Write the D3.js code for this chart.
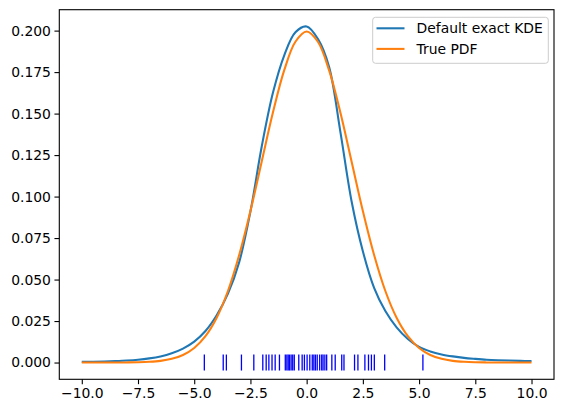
<!DOCTYPE html>
<html>
<head>
<meta charset="utf-8">
<script src="https://cdn.jsdelivr.net/npm/d3@7"></script>
<style>
  body { margin: 0; background: #fff; }
  svg { display: block; font-family: "DejaVu Sans", sans-serif; }
</style>
</head>
<body>
<div id="chart"></div>
<script>
var width = 565,
    height = 413,
    margin = {top: 9.7, right: 11, bottom: 33.7, left: 59.3};

// grid the two curves were read on
var gridX = [-10, -9.5, -9, -8.5, -8, -7.5, -7, -6.5, -6, -5.5, -5, -4.5, -4, -3.5, -3, -2.5, -2, -1.5, -1, -0.5,
             0, 0.5, 1, 1.5, 2, 2.5, 3, 3.5, 4, 4.5, 5, 5.5, 6, 6.5, 7, 7.5, 8, 8.5, 9, 9.5, 10];

var kdeVals = [0.0004, 0.0005, 0.00065, 0.00088, 0.0012, 0.0017, 0.0025, 0.0037, 0.0056, 0.0084, 0.0126, 0.0190, 0.0285, 0.0415, 0.0605, 0.0910, 0.1300, 0.1625, 0.1850, 0.1990,
               0.2025, 0.1950, 0.1780, 0.1390, 0.0970, 0.0670, 0.0450, 0.0310, 0.0212, 0.0142, 0.0094, 0.0067, 0.0049, 0.0037, 0.0028, 0.0022, 0.0017, 0.0014, 0.0012, 0.0010, 0.0009];

var pdfVals = [0.0000, 0.0000, 0.0000, 0.00002, 0.00007, 0.00018, 0.00044, 0.00101, 0.00222, 0.00454, 0.00876, 0.0159, 0.0270, 0.0431, 0.0648, 0.0913, 0.1210, 0.1506, 0.1760, 0.1933,
               0.1995, 0.1933, 0.1760, 0.1506, 0.1210, 0.0913, 0.0648, 0.0431, 0.0270, 0.0159, 0.00876, 0.00454, 0.00222, 0.00101, 0.00044, 0.00018, 0.00007, 0.00002, 0.0000, 0.0000, 0.0000];

// sample points shown as rug
var samples = [-4.55, -3.71, -3.57, -2.9, -2.35, -1.95, -1.8, -1.68, -1.54, -1.4, -1.21, -0.95, -0.88, -0.82, -0.76, -0.69, -0.62, -0.55,
               -0.35, -0.2, -0.1, 0.02, 0.14, 0.25, 0.32, 0.39, 0.47, 0.58, 0.67, 0.73, 0.81, 0.89, 1.12, 1.27, 1.56, 1.66,
               2.13, 2.28, 2.59, 2.75, 2.88, 3.01, 3.47, 5.17];

var xTicks = [-10, -7.5, -5, -2.5, 0, 2.5, 5, 7.5, 10],
    yTicks = [0, 0.025, 0.05, 0.075, 0.1, 0.125, 0.15, 0.175, 0.2];

var seriesNames = ["Default exact KDE", "True PDF"],
    color = d3.scaleOrdinal().domain(seriesNames).range(["#1f77b4", "#ff7f0e"]);

var svg = d3.select("#chart").append("svg")
    .attr("width", width)
    .attr("height", height);

var x = d3.scaleLinear().domain([-11, 11]).range([margin.left, width - margin.right]);
var y = d3.scaleLinear().domain([-0.0101, 0.2126]).range([height - margin.bottom, margin.top]);

var line = function(vals) {
    return d3.line()
        .x(function(d, i) { return x(gridX[i]); })
        .y(function(d) { return y(d); })
        .curve(d3.curveCatmullRom.alpha(0.5))(vals);
};

var plot = svg.append("g");

plot.append("path")
    .attr("d", line(kdeVals))
    .attr("fill", "none")
    .attr("stroke", color("Default exact KDE"))
    .attr("stroke-width", 2.08);

plot.append("path")
    .attr("d", line(pdfVals))
    .attr("fill", "none")
    .attr("stroke", color("True PDF"))
    .attr("stroke-width", 2.08);

// rug
plot.selectAll(".rug")
    .data(samples)
    .enter().append("line")
    .attr("class", "rug")
    .attr("x1", function(d) { return x(d); })
    .attr("x2", function(d) { return x(d); })
    .attr("y1", y(0) - 8)
    .attr("y2", y(0) + 8)
    .attr("stroke", "#0000ff")
    .attr("stroke-width", 1.3);

// axes
var xAxis = svg.append("g")
    .attr("transform", "translate(0," + (height - margin.bottom) + ")")
    .call(d3.axisBottom(x).tickValues(xTicks).tickFormat(d3.format(".1f")).tickSize(4.86).tickPadding(3.5));

var yAxis = svg.append("g")
    .attr("transform", "translate(" + margin.left + ",0)")
    .call(d3.axisLeft(y).tickValues(yTicks).tickFormat(d3.format(".3f")).tickSize(4.86).tickPadding(3.5));

[xAxis, yAxis].forEach(function(a) {
    a.select(".domain").remove();
    a.selectAll(".tick line").attr("stroke", "#000").attr("stroke-width", 1.1);
    a.selectAll(".tick text").attr("fill", "#000").style("font-size", "13.9px").style("font-family", "DejaVu Sans");
});

// frame
svg.append("rect")
    .attr("x", margin.left)
    .attr("y", margin.top)
    .attr("width", width - margin.left - margin.right)
    .attr("height", height - margin.top - margin.bottom)
    .attr("fill", "none")
    .attr("stroke", "#000")
    .attr("stroke-width", 1.1);

// legend
var legend = svg.append("g");
legend.append("rect")
    .attr("x", 372.7)
    .attr("y", 17.3)
    .attr("width", 175.6)
    .attr("height", 46)
    .attr("rx", 2.8)
    .attr("fill", "#fff")
    .attr("fill-opacity", 0.8)
    .attr("stroke", "#cccccc")
    .attr("stroke-width", 1);

seriesNames.forEach(function(name, i) {
    var ly = 28.3 + i * 20.6;
    legend.append("line")
        .attr("x1", 376.5).attr("x2", 404.5)
        .attr("y1", ly).attr("y2", ly)
        .attr("stroke", color(name))
        .attr("stroke-width", 2.08);
    legend.append("text")
        .attr("x", 416.5)
        .attr("y", ly)
        .attr("dy", "0.36em")
        .style("font-size", "13.9px")
        .attr("fill", "#000")
        .text(name);
});
</script>
</body>
</html>
